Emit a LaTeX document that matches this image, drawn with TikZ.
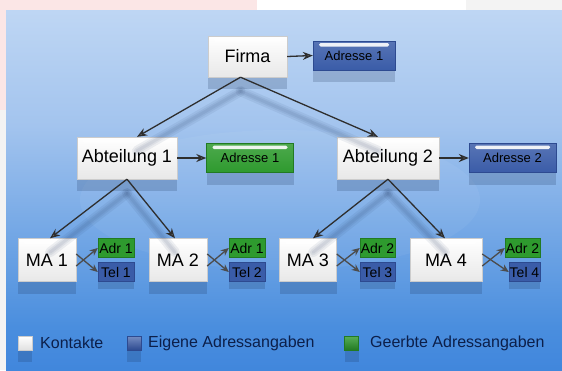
\documentclass[tikz,border=0pt]{standalone}
\usepackage{fontspec}
\setmainfont{Liberation Sans}
\usetikzlibrary{arrows.meta,calc}
\definecolor{pb0}{HTML}{1F6BD2}
\definecolor{pb1}{HTML}{2A74D8}
\definecolor{pb2}{HTML}{4A8EDE}
\definecolor{pb3}{HTML}{A3C4EE}
\definecolor{pb4}{HTML}{D3E4F8}
\definecolor{pb5}{HTML}{E2EDFA}
\definecolor{bluebox}{HTML}{3A5CA8}
\definecolor{blueboxd}{HTML}{2D4A90}
\definecolor{greenbox}{HTML}{2E9A2E}
\definecolor{greenboxd}{HTML}{227A22}
\definecolor{legtext}{HTML}{0C1F4A}
\definecolor{pinkbg}{HTML}{FBE6E6}
\definecolor{graybg}{HTML}{F3F3F3}
\definecolor{shcol}{HTML}{1A3058}
\pgfdeclareverticalshading{panel}{100bp}{color(0bp)=(pb0); color(10bp)=(pb1); color(31bp)=(pb2); color(59bp)=(pb3); color(87bp)=(pb4); color(100bp)=(pb5)}
\begin{document}
\begin{tikzpicture}[x=1pt,y=-1pt,
  shfill/.style={preaction={fill=shcol,opacity=0.2,transform canvas={yshift=-#1}}},
  shine/.style={path picture={\fill[white,opacity=0.9,rounded corners=1.5pt]
      ([xshift=#1,yshift=-2pt]path picture bounding box.north west) rectangle
      ([xshift=-#1,yshift=-5.5pt]path picture bounding box.north east);}},
  wbox/.style={shfill=12pt, draw=black!20, top color=white, bottom color=black!9, inner sep=0pt,
      font=\fontsize{18}{20}\selectfont, shine=6pt},
  bbox/.style={shfill=12pt, draw=blueboxd, top color=bluebox!85!white, bottom color=bluebox, inner sep=0pt,
      font=\fontsize{13}{14}\selectfont, shine=6pt},
  gbox/.style={shfill=12pt, draw=greenboxd, top color=greenbox!85!white, bottom color=greenbox, inner sep=0pt,
      font=\fontsize{13}{14}\selectfont, shine=6pt},
  sbbox/.style={shfill=7pt, draw=blueboxd, fill=bluebox, inner sep=0pt, font=\fontsize{14}{15}\selectfont,
      minimum width=36pt, minimum height=19pt},
  sgbox/.style={draw=greenboxd, fill=greenbox, inner sep=0pt, font=\fontsize{14}{15}\selectfont,
      minimum width=36pt, minimum height=19pt},
  conn/.style={draw=black!82, line width=1.3pt, -{Stealth[length=10pt,width=8pt,fill=black!50]}},
  sconn/.style={draw=black!70, line width=1.3pt, -{Stealth[length=8pt,width=7pt,fill=black!55]}},
  lsh/.style={draw=shcol, opacity=0.07, line width=#1, line cap=round},
  legsq/.style={shfill=12pt, minimum width=14pt, minimum height=14pt, inner sep=0pt},
  legtxt/.style={anchor=west, text=legtext, font=\fontsize{16}{18}\selectfont, inner sep=0pt}
]
\useasboundingbox (0,0) rectangle (562,370);
% screenshot margins
\fill[pinkbg] (0,0) rectangle (257,10);
\fill[white] (257,0) rectangle (466,10);
\fill[graybg] (466,0) rectangle (562,10);
\fill[pinkbg] (0,10) rectangle (6,110);
\fill[graybg] (0,110) rectangle (6,370);
% panel
\shade[shading=panel] (6,10) rectangle (562,370);
\fill[white,opacity=0.05] (280,200) ellipse (200 and 70);

% nodes
\node[wbox, minimum width=79pt, minimum height=41pt] (firma) at (247.5,56.5) {Firma};
\node[bbox, minimum width=82pt, minimum height=29pt] (adrF) at (354,55.5) {Adresse 1};
\node[wbox, minimum width=100pt, minimum height=42pt] (abt1) at (127,158) {Abteilung 1};
\node[gbox, minimum width=87pt, minimum height=29pt] (adrA1) at (250,158) {Adresse 1};
\node[wbox, minimum width=102pt, minimum height=42pt] (abt2) at (388,158) {Abteilung 2};
\node[bbox, minimum width=87pt, minimum height=29pt] (adrA2) at (512.5,158) {Adresse 2};

\node[wbox, minimum width=58pt, minimum height=43pt] (ma1) at (47,260) {MA 1};
\node[sgbox] (a1) at (116,248) {Adr 1};
\node[sbbox] (t1) at (116,272) {Tel 1};
\node[wbox, minimum width=58pt, minimum height=43pt] (ma2) at (178,260) {MA 2};
\node[sgbox] (a2) at (247,248) {Adr 1};
\node[sbbox] (t2) at (247,272) {Tel 2};
\node[wbox, minimum width=57pt, minimum height=43pt] (ma3) at (308,260) {MA 3};
\node[sgbox, minimum width=35pt] (a3) at (377.5,248) {Adr 2};
\node[sbbox, minimum width=35pt] (t3) at (377.5,272) {Tel 3};
\node[wbox, minimum width=72pt, minimum height=43pt] (ma4) at (446,260) {MA 4};
\node[sgbox, minimum width=35pt] (a4) at (522.5,248) {Adr 2};
\node[sbbox, minimum width=31pt] (t4) at (524.5,272) {Tel 4};

% legend
\node[legsq, draw=black!20, top color=white, bottom color=black!12] (lk) at (25,343) {};
\node[legtxt] (lkt) at (40,343) {Kontakte};
\node[legsq, draw=blueboxd, top color=bluebox!70!white, bottom color=blueboxd] (lb) at (134,343) {};
\node[legtxt] (lbt) at (148,343) {Eigene Adressangaben};
\node[legsq, draw=greenboxd, top color=greenbox!80!white, bottom color=greenboxd] (lg) at (351.5,343) {};
\node[legtxt] (lgt) at (370,343) {Geerbte Adressangaben};

% connector shadows
\foreach \w in {3pt,6pt,10pt}{
  \draw[lsh=\w] ($(firma.south)+(-7,14)$) -- ($(abt1.north)+(10,14)$);
  \draw[lsh=\w] ($(firma.south)+(-7,14)$) -- ($(abt2.north)+(-10,14)$);
  \draw[lsh=\w] ($(abt1.south)+(0,14)$) -- ($(ma1.north)+(3,14)$);
  \draw[lsh=\w] ($(abt1.south)+(0,14)$) -- ($(ma2.north)+(-3,14)$);
  \draw[lsh=\w] ($(abt2.south)+(0,14)$) -- ($(ma3.north)+(5,14)$);
  \draw[lsh=\w] ($(abt2.south)+(0,14)$) -- ($(ma4.north)+(-1,14)$);
}

% connectors
\draw[conn] ($(firma.south)+(-7,0)$) -- ($(abt1.north)+(10,0)$);
\draw[conn] ($(firma.south)+(-7,0)$) -- ($(abt2.north)+(-10,0)$);
\draw[conn] (firma.east) -- (adrF.west);
\draw[conn] (abt1.east) -- (adrA1.west);
\draw[conn] (abt2.east) -- (adrA2.west);
\draw[conn] (abt1.south) -- ($(ma1.north)+(3,0)$);
\draw[conn] (abt1.south) -- ($(ma2.north)+(-3,0)$);
\draw[conn] (abt2.south) -- ($(ma3.north)+(5,0)$);
\draw[conn] (abt2.south) -- ($(ma4.north)+(-1,0)$);
\foreach \m/\a/\t in {ma1/a1/t1, ma2/a2/t2, ma3/a3/t3, ma4/a4/t4}{
  \draw[sconn] ($(\m.east)+(0,6)$) -- (\a.west);
  \draw[sconn] ($(\m.east)+(0,-6)$) -- (\t.west);
}
\end{tikzpicture}
\end{document}
